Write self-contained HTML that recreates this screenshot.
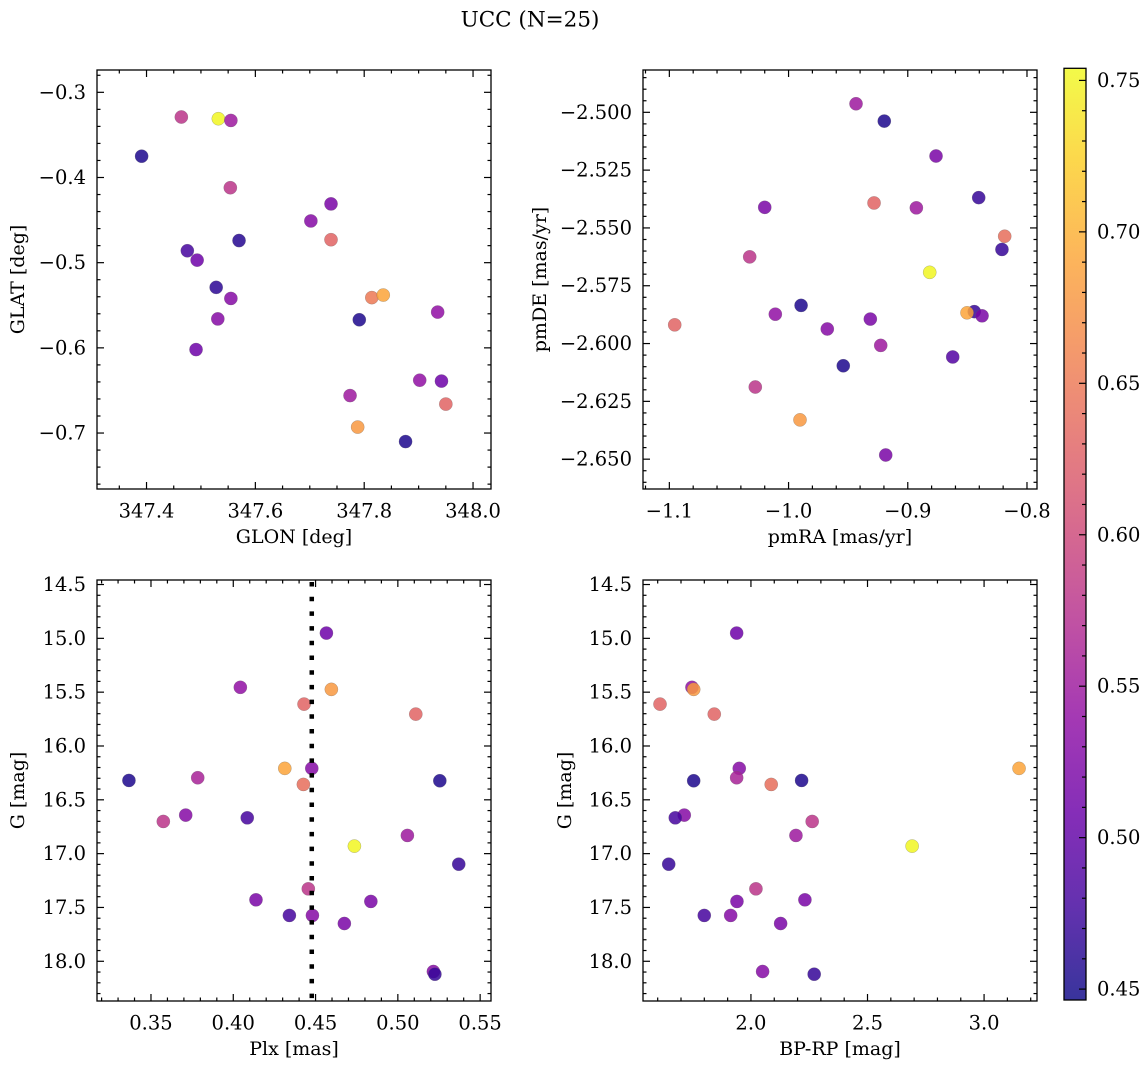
<!DOCTYPE html>
<html>
<head>
<meta charset="utf-8">
<style>
html,body{margin:0;padding:0;background:#fff;}
svg{display:block;font-family:"DejaVu Serif","Liberation Serif",serif;}
</style>
</head>
<body>
<svg id="fig" width="1148" height="1068" viewBox="0 0 1148 1068" xmlns="http://www.w3.org/2000/svg">
<rect x="0" y="0" width="1148" height="1068" fill="#fff"/>
<text x="530" y="20" font-size="21.5" text-anchor="middle" dominant-baseline="central">UCC (N=25)</text>
<defs>
<linearGradient id="cbgrad" x1="0" y1="1" x2="0" y2="0"></linearGradient>
</defs>
</svg>
<script>
// ---- data ----
const tlGlon = [347.464,347.532,347.555,347.391,347.554,347.739,347.702,347.570,347.739,347.475,347.493,347.528,347.555,347.814,347.835,347.531,347.791,347.935,347.491,347.902,347.942,347.774,347.950,347.788,347.876];
const tlGlat = [-0.329,-0.331,-0.333,-0.375,-0.412,-0.431,-0.451,-0.474,-0.473,-0.486,-0.497,-0.529,-0.542,-0.541,-0.538,-0.566,-0.567,-0.558,-0.602,-0.638,-0.639,-0.656,-0.666,-0.693,-0.710];
const tlColor = [0.58,0.752,0.55,0.455,0.58,0.52,0.53,0.46,0.63,0.48,0.51,0.465,0.53,0.65,0.69,0.53,0.455,0.54,0.51,0.54,0.51,0.55,0.63,0.68,0.455];

const trPmra = [-0.9434,-0.9197,-0.8763,-0.8405,-1.02,-0.9283,-0.8928,-0.8187,-0.821,-1.0326,-0.8816,-1.0955,-0.9895,-0.8442,-0.8503,-0.8377,-1.0111,-0.9314,-0.9675,-0.9227,-0.8623,-0.9541,-1.0279,-0.9904,-0.9185];
const trPmde = [-2.4963,-2.5038,-2.5189,-2.5369,-2.5411,-2.5392,-2.5413,-2.5536,-2.5593,-2.5625,-2.5692,-2.5919,-2.5835,-2.5862,-2.5867,-2.588,-2.5873,-2.5894,-2.5937,-2.6008,-2.6058,-2.6096,-2.6188,-2.633,-2.6482];
const trColor = [0.55,0.455,0.52,0.47,0.52,0.63,0.55,0.64,0.47,0.58,0.752,0.63,0.455,0.47,0.69,0.52,0.54,0.52,0.53,0.55,0.49,0.455,0.58,0.68,0.52];

const plx = [0.4566,0.4043,0.4596,0.443,0.5109,0.4313,0.4477,0.3784,0.3366,0.5255,0.4426,0.3711,0.3575,0.4085,0.5058,0.4736,0.537,0.4456,0.4138,0.4836,0.4341,0.4481,0.4675,0.5216,0.5225];
const gmag = [14.951,15.455,15.474,15.611,15.704,16.208,16.208,16.295,16.32,16.323,16.357,16.642,16.701,16.667,16.831,16.93,17.098,17.327,17.429,17.444,17.574,17.574,17.649,18.095,18.12];
const bprp = [1.9387,1.747,1.7544,1.61,1.8427,3.15,1.9499,1.9387,2.2173,1.7544,2.087,1.714,2.2627,1.6755,2.193,2.6914,1.6473,2.0214,2.2315,1.94,1.7998,1.913,2.1273,2.05,2.2713];
const bColor = [0.51,0.54,0.68,0.63,0.63,0.69,0.53,0.56,0.455,0.455,0.64,0.53,0.58,0.48,0.55,0.752,0.47,0.58,0.52,0.52,0.48,0.53,0.52,0.53,0.47];

const plxMedian = [0.4477];
const cbTicks = [0.45,0.50,0.55,0.60,0.65,0.70,0.75];

// ---- helpers ----
const NS = 'http://www.w3.org/2000/svg';
const svg = document.getElementById('fig');
const TICK_FS = 19.5, LABEL_FS = 19;
function mk(tag, attrs, parent){
  const e = document.createElementNS(NS, tag);
  for (const k in attrs) e.setAttribute(k, attrs[k]);
  parent.appendChild(e);
  return e;
}
const plasmaStops = [[13,8,135],[65,4,157],[106,0,168],[143,13,164],[177,42,144],[204,71,120],[225,100,98],[242,132,75],[252,166,54],[252,206,37],[240,249,33]];
const VMIN = 0.4464, VMAX = 0.754;
function cmap(v){
  let t = (v - VMIN) / (VMAX - VMIN);
  t = Math.max(0, Math.min(1, t));
  const f = t * 10, i = Math.min(9, Math.floor(f)), r = f - i;
  const a = plasmaStops[i], b = plasmaStops[i+1];
  return 'rgb(' + [0,1,2].map(k => Math.round(a[k] + (b[k]-a[k])*r)).join(',') + ')';
}
function fmt(v, d){
  const s = Math.abs(v).toFixed(d);
  return (v < -1e-9 ? '\u2212' : '') + s;
}
function range(start, stop, step){
  const out = [];
  const n0 = Math.ceil(start/step - 1e-6), n1 = Math.floor(stop/step + 1e-6);
  for (let n = n0; n <= n1; n++) out.push(+(n*step).toFixed(6));
  return out;
}

function drawPanel(p, xs, ys, cs){
  const g = mk('g', {}, svg);
  
  
  const sx = v => p.x0 + (v - p.xmin) / (p.xmax - p.xmin) * (p.x1 - p.x0);
  const sy = p.invert
    ? v => p.y0 + (v - p.ymin) / (p.ymax - p.ymin) * (p.y1 - p.y0)
    : v => p.y1 - (v - p.ymin) / (p.ymax - p.ymin) * (p.y1 - p.y0);

  const pg = mk('g', {}, g);
  
  
  for (let i = 0; i < xs.length; i++){
    const c = mk('circle', {cx: sx(xs[i]).toFixed(2), cy: sy(ys[i]).toFixed(2), r: 6.6, fill: cmap(cs[i]), 'fill-opacity': 0.85, stroke: '#666', 'stroke-width': 0.4, 'stroke-opacity': 0.6}, pg);
    
    
  }

  if (p.vline){
    const l = mk('line', {x1: sx(p.vline[0]), x2: sx(p.vline[0]), y1: p.y0 + 2, y2: p.y1, stroke: '#000', 'stroke-width': 4.5, 'stroke-dasharray': '4.5 10.2'}, g);
    
    
  }

  const tg = mk('g', {stroke: '#000', 'stroke-width': 1.2}, g);
  
  
  const xMaj = range(p.xmin, p.xmax, p.xMajor), xMin = range(p.xmin, p.xmax, p.xMinor);
  const yMaj = range(Math.min(p.ymin,p.ymax), Math.max(p.ymin,p.ymax), p.yMajor), yMin = range(Math.min(p.ymin,p.ymax), Math.max(p.ymin,p.ymax), p.yMinor);
  const isMaj = (v, arr) => arr.some(m => Math.abs(m - v) < 1e-6);
  xMin.forEach(v => { if (isMaj(v, xMaj)) return; const x = sx(v);
    mk('line', {x1: x, x2: x, y1: p.y1, y2: p.y1 - 3.5}, tg); mk('line', {x1: x, x2: x, y1: p.y0, y2: p.y0 + 3.5}, tg); });
  yMin.forEach(v => { if (isMaj(v, yMaj)) return; const y = sy(v);
    mk('line', {x1: p.x0, x2: p.x0 + 3.5, y1: y, y2: y}, tg); mk('line', {x1: p.x1, x2: p.x1 - 3.5, y1: y, y2: y}, tg); });
  xMaj.forEach(v => { const x = sx(v);
    mk('line', {x1: x, x2: x, y1: p.y1, y2: p.y1 - 7}, tg); mk('line', {x1: x, x2: x, y1: p.y0, y2: p.y0 + 7}, tg);
    const t = mk('text', {x: x, y: p.y1 + 22, 'font-size': TICK_FS, 'text-anchor': 'middle', 'dominant-baseline': 'central', stroke: 'none', fill: '#000'}, g);
    
    
    t.textContent = fmt(v, p.xDec); });
  yMaj.forEach(v => { const y = sy(v);
    mk('line', {x1: p.x0, x2: p.x0 + 7, y1: y, y2: y}, tg); mk('line', {x1: p.x1, x2: p.x1 - 7, y1: y, y2: y}, tg);
    const t = mk('text', {x: p.x0 - 11, y: y, 'font-size': TICK_FS, 'text-anchor': 'end', 'dominant-baseline': 'central', fill: '#000'}, g);
    
    
    t.textContent = fmt(v, p.yDec); });

  const fr = mk('rect', {x: p.x0, y: p.y0, width: p.x1 - p.x0, height: p.y1 - p.y0, fill: 'none', stroke: '#000', 'stroke-width': 1.3}, g);
  
  

  const xl = mk('text', {x: (p.x0 + p.x1)/2, y: p.y1 + 48, 'font-size': LABEL_FS, 'text-anchor': 'middle', 'dominant-baseline': 'central'}, g);
  
  
  xl.textContent = p.xlabel;
  const yl = mk('text', {x: 0, y: 0, 'font-size': LABEL_FS, 'text-anchor': 'middle', 'dominant-baseline': 'central', transform: 'translate(' + p.ylx + ',' + (p.y0 + p.y1)/2 + ') rotate(-90)'}, g);
  
  
  yl.textContent = p.ylabel;
}

drawPanel({name: 'glon-glat-panel', x0: 97, x1: 491, y0: 70, y1: 489, xmin: 347.309, xmax: 348.033, ymin: -0.7657, ymax: -0.2738,
  xMajor: 0.2, xMinor: 0.05, yMajor: 0.1, yMinor: 0.02, xDec: 1, yDec: 1, xlabel: 'GLON [deg]', ylabel: 'GLAT [deg]', ylx: 18}, tlGlon, tlGlat, tlColor);

drawPanel({name: 'pm-panel', x0: 643, x1: 1037, y0: 70, y1: 489, xmin: -1.1221, xmax: -0.7916, ymin: -2.6629, ymax: -2.4817,
  xMajor: 0.1, xMinor: 0.02, yMajor: 0.025, yMinor: 0.005, xDec: 1, yDec: 3, xlabel: 'pmRA [mas/yr]', ylabel: 'pmDE [mas/yr]', ylx: 540}, trPmra, trPmde, trColor);

drawPanel({name: 'plx-g-panel', x0: 97, x1: 491, y0: 580, y1: 1001, xmin: 0.3172, xmax: 0.5566, ymin: 14.458, ymax: 18.369, invert: true,
  xMajor: 0.05, xMinor: 0.01, yMajor: 0.5, yMinor: 0.1, xDec: 2, yDec: 1, xlabel: 'Plx [mas]', ylabel: 'G [mag]', ylx: 18, vline: plxMedian}, plx, gmag, bColor);

drawPanel({name: 'cmd-panel', x0: 643, x1: 1037, y0: 580, y1: 1001, xmin: 1.537, xmax: 3.227, ymin: 14.458, ymax: 18.369, invert: true,
  xMajor: 0.5, xMinor: 0.1, yMajor: 0.5, yMinor: 0.1, xDec: 1, yDec: 1, xlabel: 'BP-RP [mag]', ylabel: 'G [mag]', ylx: 565}, bprp, gmag, bColor);

(function(){
  const x0 = 1064, x1 = 1086, y0 = 68.3, y1 = 1000;
  const sy = v => y1 - (v - VMIN) / (VMAX - VMIN) * (y1 - y0);
  const grad = document.getElementById('cbgrad');
  for (let i = 0; i <= 20; i++){
    const v = VMIN + (VMAX - VMIN) * i / 20;
    mk('stop', {offset: (i*5) + '%', 'stop-color': cmap(v)}, grad);
  }
  const g = mk('g', {}, svg);
  
  
  const r = mk('rect', {x: x0, y: y0, width: x1 - x0, height: y1 - y0, fill: 'url(#cbgrad)', 'fill-opacity': 0.82}, g);
  
  
  const minors = range(VMIN, VMAX, 0.01);
  minors.forEach(v => {
    if (cbTicks.some(m => Math.abs(m - v) < 1e-6)) return;
    mk('line', {x1: x1, x2: x1 - 4, y1: sy(v), y2: sy(v), stroke: '#000', 'stroke-width': 1.2}, g);
  });
  cbTicks.forEach(v => {
    mk('line', {x1: x1, x2: x1 - 7, y1: sy(v), y2: sy(v), stroke: '#000', 'stroke-width': 1.2}, g);
    const t = mk('text', {x: 1097, y: sy(v), 'font-size': TICK_FS, 'dominant-baseline': 'central'}, g);
    
    
    t.textContent = v.toFixed(2);
  });
  const f = mk('rect', {x: x0, y: y0, width: x1 - x0, height: y1 - y0, fill: 'none', stroke: '#000', 'stroke-width': 1.3}, g);
  
  
})();
</script>
</body>
</html>
